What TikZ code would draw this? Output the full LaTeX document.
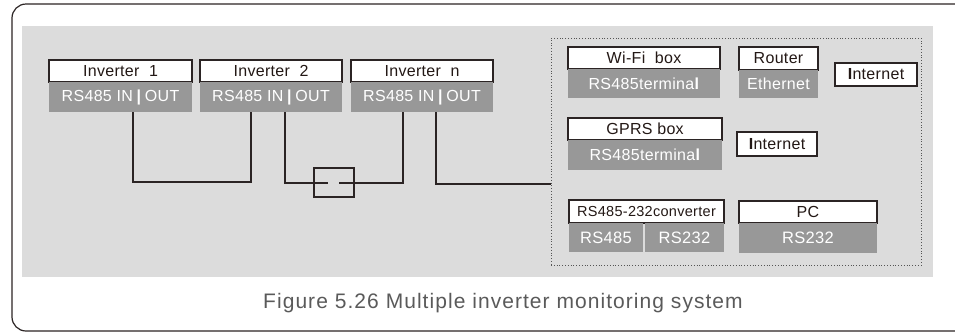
\documentclass[tikz,border=0pt]{standalone}
\usepackage{fontspec}
\setmainfont{Liberation Sans}[LetterSpace=2]
\newfontfamily\capfont{Liberation Sans}[LetterSpace=5]
\definecolor{linec}{HTML}{2B2424}
\definecolor{portg}{HTML}{989898}
\definecolor{bgg}{HTML}{DCDCDC}
\definecolor{txt}{HTML}{231815}
\definecolor{capc}{HTML}{5A5A5A}
\definecolor{dotc}{HTML}{555555}
\begin{document}
\begin{tikzpicture}[x=1pt,y=-1pt,
  hdr/.style={draw=linec,line width=1.3pt,fill=white,inner sep=0pt,outer sep=0pt,anchor=north west,text=txt,font=\fontsize{16}{16}\selectfont},
  port/.style={fill=portg,inner sep=0pt,outer sep=0pt,anchor=north west,text=white,font=\fontsize{16}{16}\selectfont},
  net/.style={draw=linec,line width=1.6pt,fill=white,inner sep=0pt,outer sep=0pt,anchor=north west,text=txt,font=\fontsize{16}{16}\selectfont},
  wire/.style={draw=linec,line width=1.3pt}]
\useasboundingbox (0,0) rectangle (955,333);
% outer frame
\draw[linec,line width=1.2pt,rounded corners=14pt] (12,4) rectangle (975,331);
% gray background
\fill[bgg] (22,26) rectangle (933,277);
% dotted group frame
\node[draw=dotc,dotted,line width=0.8pt,inner sep=0pt,outer sep=0pt,anchor=north west,minimum width=370,minimum height=227] (grp) at (551,38) {};
% inverters
\node[hdr,minimum width=143,minimum height=22] (inv1) at (49,60) {Inverter\ \ 1};
\node[port,minimum width=143,minimum height=30] (inv1p) at (49,82) {RS485 IN\:\textbf{|}\:OUT};
\node[hdr,minimum width=142,minimum height=22] (inv2) at (200,60) {Inverter\ \ 2};
\node[port,minimum width=142,minimum height=30] (inv2p) at (200,82) {RS485 IN\:\textbf{|}\:OUT};
\node[hdr,minimum width=142,minimum height=22] (invn) at (351,60) {Inverter\ \ n};
\node[port,minimum width=142,minimum height=30] (invnp) at (351,82) {RS485 IN\:\textbf{|}\:OUT};
% Wi-Fi box
\node[hdr,minimum width=152,minimum height=22] (wifi) at (568,47) {Wi-Fi\ \ box};
\node[port,minimum width=152,minimum height=29] (wifip) at (568,69) {RS485termina\textbf{l}};
% Router
\node[hdr,minimum width=79,minimum height=23] (router) at (739,47) {Router};
\node[port,minimum width=79,minimum height=28] (routerp) at (739,70) {Ethernet};
\node[net,minimum width=82,minimum height=23] (net1) at (835,63) {\textbf{I}nternet};
% GPRS box
\node[hdr,minimum width=154,minimum height=22] (gprs) at (568,118) {GPRS box};
\node[port,minimum width=154,minimum height=30] (gprsp) at (568,140) {RS485termina\textbf{l}};
\node[net,minimum width=80,minimum height=24] (net2) at (737,132) {\textbf{I}nternet};
% converter
\node[hdr,minimum width=155,minimum height=23,font=\fontsize{14.5}{14.5}\selectfont] (conv) at (569,200) {RS485-232converter};
\node[port,minimum width=74,minimum height=29,font=\fontsize{16.5}{16.5}\selectfont] (convA) at (569,223) {RS485};
\node[port,minimum width=79,minimum height=29,font=\fontsize{16.5}{16.5}\selectfont] (convB) at (645,223) {RS232};
% PC
\node[hdr,minimum width=138,minimum height=22] (pc) at (739,201) {PC};
\node[port,minimum width=138,minimum height=30,font=\fontsize{16.5}{16.5}\selectfont] (pcp) at (739,223) {RS232};
% connection points
\coordinate (i1in) at (133,112);
\coordinate (i2in) at (251,112);
\coordinate (i2out) at (285,112);
\coordinate (nin) at (403,112);
\coordinate (nout) at (436,112);
\coordinate (gapL) at (328,183);
\coordinate (gapR) at (339,183);
\coordinate (nbend) at (436,184);
% break symbol
\node[draw=linec,line width=1.3pt,inner sep=0pt,outer sep=0pt,anchor=north west,minimum width=40,minimum height=29] (brk) at (314,168) {};
% wires
\draw[wire] (i1in) -- ++(0,70) -| (i2in);
\draw[wire] (i2out) |- (gapL);
\draw[wire] (gapR) -| (nin);
\draw[wire] (nout) -- (nbend) -- (nbend -| grp.west);
% caption
\node[text=capc,font=\capfont\fontsize{21}{21}\selectfont] (cap) at (503,303) {Figure 5.26 Multiple inverter monitoring system};
\end{tikzpicture}
\end{document}
